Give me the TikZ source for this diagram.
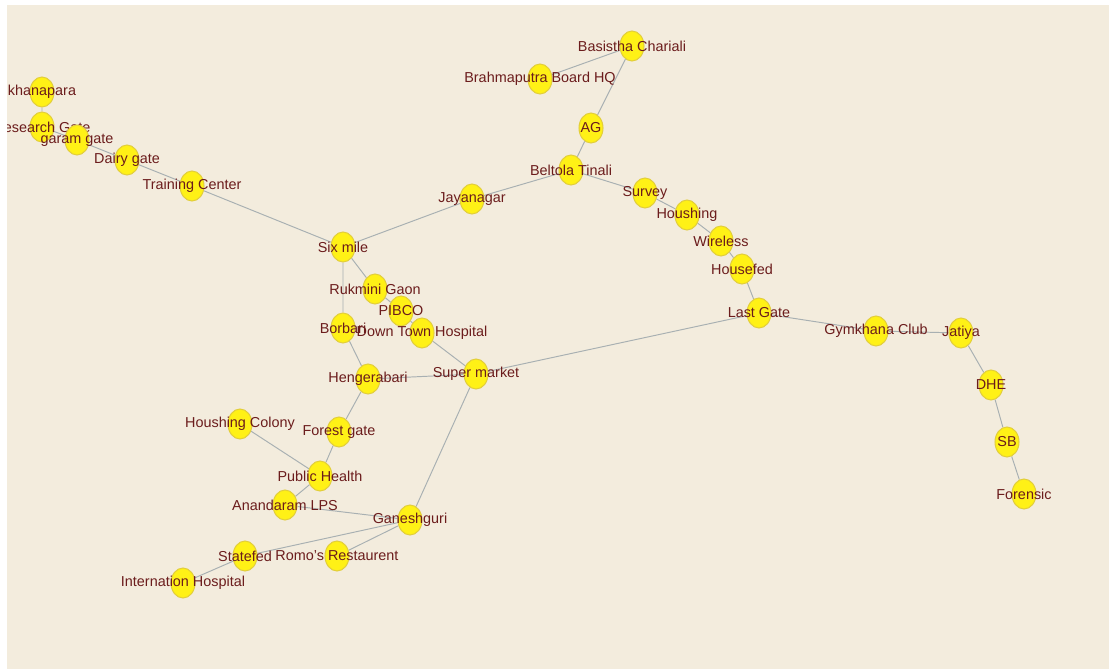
\documentclass[tikz,border=0pt]{standalone}
\usepackage{fontspec}
\setmainfont{Liberation Sans}
\usetikzlibrary{shapes.geometric,backgrounds}
\definecolor{MapSand}{HTML}{F3ECDD}
\definecolor{MapYellow}{HTML}{FFF116}
\definecolor{MapOchre}{HTML}{E2CE3C}
\definecolor{MapMaroon}{HTML}{6B1C1C}
\definecolor{MapRoad}{HTML}{A8B0B2}
\tikzset{
  stop/.style={ellipse,draw=MapOchre,fill=MapYellow,line width=0.6pt,
    minimum width=4.8mm,minimum height=6mm,inner sep=0pt,
    label={[stoplabel]center:#1}},
  stoplabel/.style={text=MapMaroon,font=\fontsize{8.2}{9}\selectfont,inner sep=0pt},
  road/.style={draw=MapRoad,line width=0.55pt}
}

\begin{document}
\begin{tikzpicture}[x=0.02cm,y=-0.02cm]
  \useasboundingbox (0,0) rectangle (1109,669);
  \clip (7,5) rectangle (1109,669);
  % west arm
  \node[stop=khanapara] (khana) at (42,92) {};
  \node[stop=Research Gate] (research) at (42,127) {};
  \node[stop=garam gate] (garam) at (77,140) {};
  \node[stop=Dairy gate] (dairy) at (127,160) {};
  \node[stop=Training Center] (training) at (192,186) {};
  \node[stop=Six mile] (six) at (343,247) {};
  % north arm
  \node[stop=Jayanagar] (jaya) at (472,199) {};
  \node[stop=Beltola Tinali] (beltola) at (571,170) {};
  \node[stop=AG] (ag) at (591,128) {};
  \node[stop=Brahmaputra Board HQ] (bbhq) at (540,79) {};
  \node[stop=Basistha Chariali] (basistha) at (632,46) {};
  \node[stop=Survey] (survey) at (645,193) {};
  \node[stop=Houshing] (houshing) at (687,215) {};
  \node[stop=Wireless] (wireless) at (721,241) {};
  \node[stop=Housefed] (housefed) at (742,269) {};
  \node[stop=Last Gate] (lastgate) at (759,313) {};
  % east arm
  \node[stop=Gymkhana Club] (gymkhana) at (876,331) {};
  \node[stop=Jatiya] (jatiya) at (961,333) {};
  \node[stop=DHE] (dhe) at (991,385) {};
  \node[stop=SB] (sb) at (1007,442) {};
  \node[stop=Forensic] (forensic) at (1024,494) {};
  % centre
  \node[stop=Rukmini Gaon] (rukmini) at (375,289) {};
  \node[stop=Borbari] (borbari) at (343,328) {};
  \node[stop=PIBCO] (pibco) at (401,311) {};
  \node[stop=Down Town Hospital] (downtown) at (422,333) {};
  \node[stop=Hengerabari] (hengera) at (368,379) {};
  \node[stop=Super market] (super) at (476,374) {};
  % south
  \node[stop=Houshing Colony] (hcolony) at (240,424) {};
  \node[stop=Forest gate] (forest) at (339,432) {};
  \node[stop=Public Health] (phealth) at (320,476) {};
  \node[stop=Anandaram LPS] (anandaram) at (285,505) {};
  \node[stop=Ganeshguri] (ganesh) at (410,520) {};
  \node[stop=Statefed] (statefed) at (245,556) {};
  \node[stop=Romo's Restaurent] (romo) at (337,556) {};
  \node[stop=Internation Hospital] (ihospital) at (183,583) {};
  \begin{scope}[on background layer]
    \fill[MapSand] (7,5) rectangle (1109,669);
    \draw[road] (khana)--(research)--(garam)--(dairy)--(training)--(six);
    \draw[road] (six)--(jaya)--(beltola)--(ag)--(basistha)--(bbhq);
    \draw[road] (beltola)--(survey)--(houshing)--(wireless)--(housefed)--(lastgate);
    \draw[road] (lastgate)--(gymkhana)--(jatiya)--(dhe)--(sb)--(forensic);
    \draw[road] (six)--(rukmini)--(pibco)--(downtown)--(super)--(lastgate);
    \draw[road] (six)--(borbari)--(hengera)--(super);
    \draw[road] (hengera)--(forest)--(phealth)--(anandaram)--(ganesh)--(super);
    \draw[road] (hcolony)--(phealth);
    \draw[road] (ihospital)--(statefed)--(ganesh)--(romo);
  \end{scope}
\end{tikzpicture}
\end{document}
